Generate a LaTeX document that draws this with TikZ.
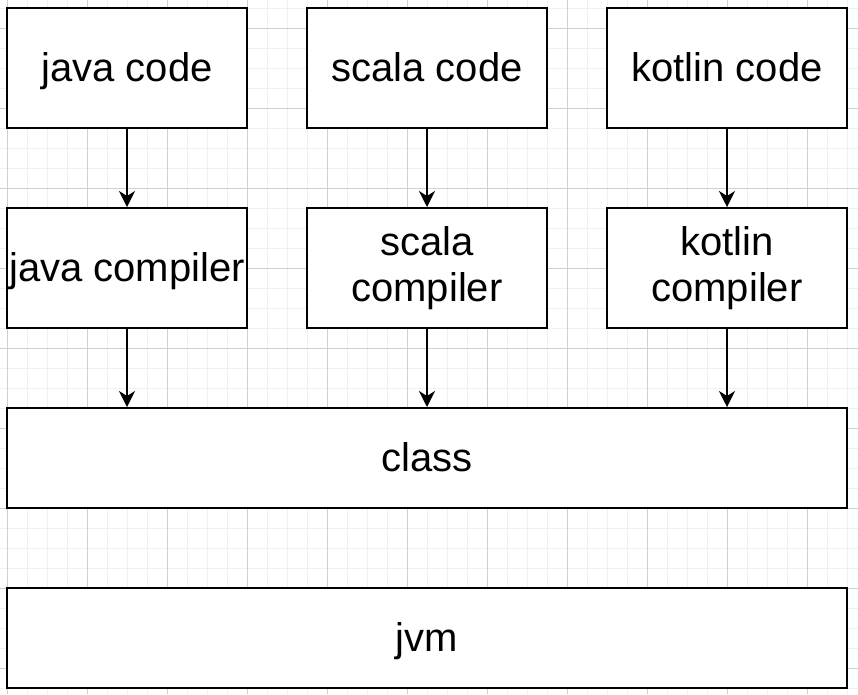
\documentclass[tikz,border=0pt]{standalone}
\usepackage{fontspec}
\setmainfont{Liberation Sans}
\usetikzlibrary{arrows.meta}
\begin{document}
\begin{tikzpicture}[x=1pt,y=-1pt,
  box/.style={draw=black, line width=2pt, fill=white, rectangle, inner sep=0pt,
    minimum width=240pt, minimum height=120pt, align=center,
    font=\fontsize{40}{46}\selectfont},
  oneline/.style={box, text height=37pt, text depth=11pt},
  wide/.style={oneline, minimum width=840pt, minimum height=100pt},
  flow/.style={draw=black, line width=2pt, -{Stealth[length=16pt,width=16pt,inset=5pt]}},
  minorgrid/.style={draw=black!6, line width=1pt},
  majorgrid/.style={draw=black!19, line width=1pt}]
\useasboundingbox (0,0) rectangle (858,694);
\fill[white] (0,0) rectangle (858,694);
% grid
\foreach \x in {7,27,...,857} \draw[minorgrid] (\x,0) -- (\x,694);
\foreach \y in {8,28,...,694} \draw[minorgrid] (0,\y) -- (858,\y);
\foreach \x in {7,87,...,857} \draw[majorgrid] (\x,0) -- (\x,694);
\foreach \y in {28,108,...,694} \draw[majorgrid] (0,\y) -- (858,\y);
% nodes
\node[oneline] (jcode) at (127,68) {java code};
\node[oneline] (scode) at (427,68) {scala code};
\node[oneline] (kcode) at (727,68) {kotlin code};
\node[oneline] (jcomp) at (127,268) {java compiler};
\node[box] (scomp) at (427,268) {scala\\compiler};
\node[box] (kcomp) at (727,268) {kotlin\\compiler};
\node[wide] (class) at (427,458) {class};
\node[wide] (jvm) at (427,638) {jvm};
% arrows
\draw[flow] (jcode) -- (jcomp);
\draw[flow] (scode) -- (scomp);
\draw[flow] (kcode) -- (kcomp);
\draw[flow] (jcomp.south) -- (jcomp.south |- class.north);
\draw[flow] (scomp.south) -- (scomp.south |- class.north);
\draw[flow] (kcomp.south) -- (kcomp.south |- class.north);
\end{tikzpicture}
\end{document}
